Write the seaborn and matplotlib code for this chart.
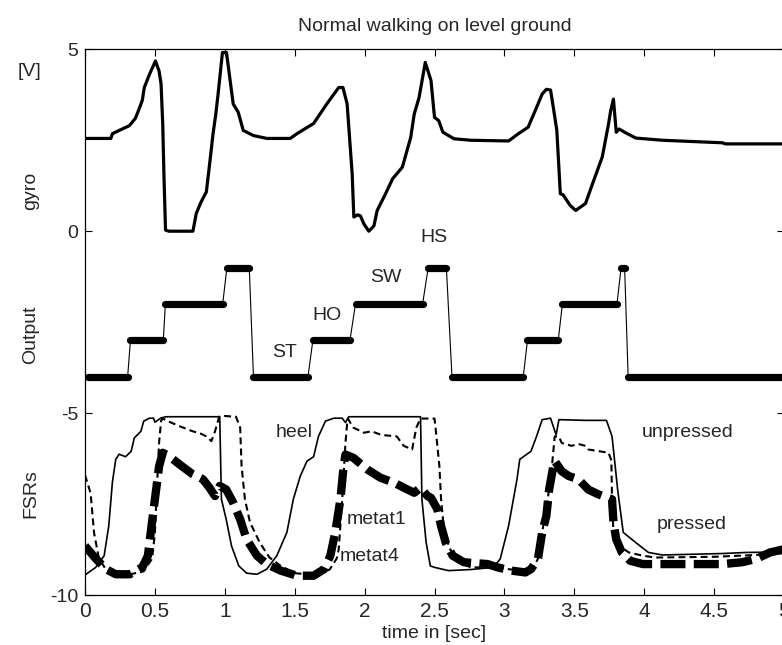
import numpy as np
import pandas as pd
import matplotlib
matplotlib.use("Agg")
import matplotlib.pyplot as plt
import seaborn as sns

# ---------------- data ----------------
gyro_t = [0.0, 0.1, 0.185, 0.196, 0.25, 0.317, 0.36, 0.388, 0.41, 0.424, 0.46, 0.504, 0.53, 0.544,
          0.556, 0.565, 0.576, 0.6, 0.772, 0.796, 0.83, 0.868, 0.89, 0.916, 0.935, 0.952, 0.983,
          1.012, 1.06, 1.096, 1.132, 1.204, 1.3, 1.468, 1.516, 1.635, 1.73, 1.815, 1.845, 1.875,
          1.911, 1.923, 1.95, 1.97, 1.995, 2.03, 2.067, 2.09, 2.15, 2.2, 2.27, 2.33, 2.355, 2.39,
          2.434, 2.475, 2.5, 2.53, 2.56, 2.64, 2.76, 3.03, 3.1, 3.17, 3.22, 3.27, 3.3, 3.33, 3.35,
          3.375, 3.4, 3.42, 3.47, 3.51, 3.58, 3.63, 3.70, 3.745, 3.76, 3.78, 3.80, 3.82, 3.86, 3.94,
          4.13, 4.56, 4.58, 5.0]
gyro_v = [2.55, 2.55, 2.55, 2.68, 2.78, 2.9, 3.1, 3.37, 3.6, 3.95, 4.3, 4.68, 4.4, 4.05,
          2.95, 1.5, 0.03, 0.0, 0.0, 0.49, 0.8, 1.08, 1.8, 2.68, 3.2, 3.77, 4.91,
          4.91, 3.5, 3.27, 2.77, 2.63, 2.55, 2.55, 2.68, 2.96, 3.5, 3.95, 3.95, 3.5,
          1.58, 0.39, 0.45, 0.42, 0.2, 0.0, 0.15, 0.57, 1.03, 1.44, 1.76, 2.58, 3.22, 3.68,
          4.64, 4.14, 3.13, 3.04, 2.72, 2.54, 2.5, 2.48, 2.68, 2.86, 3.31, 3.77, 3.9, 3.88, 3.4,
          2.77, 1.03, 1.0, 0.71, 0.57, 0.76, 1.3, 2.04, 2.95, 3.31, 3.63, 2.72, 2.81, 2.72, 2.56,
          2.5, 2.43, 2.4, 2.4]

seg_start = [0.025, 0.325, 0.575, 1.015, 1.205, 1.63, 1.935, 2.455, 2.625, 3.165, 3.415, 3.835, 3.885]
seg_end = [0.305, 0.56, 0.985, 1.175, 1.595, 1.895, 2.415, 2.585, 3.135, 3.385, 3.805, 3.86, 5.0]
seg_level = [-4, -3, -2, -1, -4, -3, -2, -1, -4, -3, -2, -1, -4]

heel_t = [0, 0.077, 0.137, 0.17, 0.196, 0.22, 0.244, 0.29, 0.33, 0.353, 0.4, 0.42, 0.46, 0.49,
          0.50, 0.545, 0.58, 0.964, 0.966, 0.976, 1.01, 1.048, 1.1, 1.156, 1.23, 1.3, 1.372, 1.444,
          1.49, 1.54, 1.588, 1.635, 1.67, 1.72, 1.78, 1.84, 1.863, 1.887, 2.40, 2.41, 2.44, 2.47,
          2.5, 2.6, 2.76, 2.92, 2.97, 3.03, 3.09, 3.11, 3.19, 3.23, 3.27, 3.33, 3.37, 3.39, 3.58,
          3.73, 3.77, 3.81, 3.85, 3.94, 4.03, 4.13, 4.56, 4.73, 5.0]
heel_v = [-9.45, -9.24, -8.92, -8.1, -6.9, -6.27, -6.13, -6.2, -6.05, -5.68, -5.5, -5.22, -5.14, -5.14,
          -5.25, -5.13, -5.1, -5.1, -5.55, -7.37, -7.92, -8.65, -9.2, -9.4, -9.43, -9.29, -8.92, -8.28,
          -7.37, -6.73, -6.32, -6.2, -5.64, -5.22, -5.14, -5.14, -5.26, -5.1, -5.1, -7.37, -8.55, -9.2,
          -9.24, -9.33, -9.3, -9.24, -9.01, -8.1, -6.82, -6.27, -6.05, -5.64, -5.18, -5.14, -5.6, -5.18, -5.2,
          -5.2, -5.64, -7.1, -8.28, -8.56, -8.83, -8.9, -8.86, -8.83, -8.82]

metat1_t = [0, 0.04, 0.065, 0.1, 0.15, 0.3, 0.42, 0.48, 0.5, 0.515, 0.53, 0.545, 0.56, 0.58, 0.676,
            0.77, 0.82, 0.868, 0.904, 0.93, 0.96, 1.0, 1.08, 1.11, 1.12, 1.144, 1.18, 1.25, 1.32, 1.4,
            1.5, 1.65, 1.75, 1.8, 1.815, 1.84, 1.863, 1.875, 1.88, 1.92, 1.995, 2.05, 2.12, 2.23, 2.28,
            2.34, 2.37, 2.40, 2.5, 2.51, 2.535, 2.547, 2.57, 2.61, 2.67, 2.76, 2.93, 3.05, 3.2, 3.24,
            3.27, 3.31, 3.34, 3.36, 3.39, 3.41, 3.48, 3.53, 3.58, 3.6, 3.745, 3.765, 3.77, 3.78, 3.82,
            3.89, 3.99, 4.08, 4.5, 4.8, 5.0]
metat1_v = [-6.7, -7.2, -8.3, -9.0, -9.3, -9.45, -9.35, -9.0, -8.3, -7.0, -5.8, -5.2, -5.15, -5.2, -5.36,
            -5.5, -5.55, -5.64, -5.77, -5.5, -5.1, -5.08, -5.1, -5.4, -6.46, -7.37, -8.0, -8.56, -8.97, -9.2,
            -9.4, -9.45, -9.3, -9.0, -8.74, -7.37, -5.82, -5.3, -5.15, -5.4, -5.54, -5.5, -5.6, -5.64, -5.9,
            -6.0, -5.4, -5.15, -5.15, -5.5, -6.46, -7.37, -8.28, -8.73, -9.1, -9.24, -9.24, -9.3, -9.3, -9.0,
            -8.28, -7.37, -6.46, -5.64, -5.65, -5.82, -5.9, -5.85, -5.9, -6.0, -6.09, -6.3, -7.37, -8.28, -8.65,
            -8.83, -8.92, -8.97, -8.95, -8.9, -8.85]

metat4_t = [0, 0.077, 0.15, 0.22, 0.32, 0.41, 0.45, 0.47, 0.5, 0.53, 0.556, 0.6, 0.676, 0.77, 0.844,
            0.89, 0.93, 0.964, 1.01, 1.06, 1.11, 1.156, 1.23, 1.3, 1.4, 1.516, 1.635, 1.71, 1.755, 1.79,
            1.827, 1.85, 1.863, 1.92, 2.02, 2.115, 2.21, 2.28, 2.355, 2.40, 2.45, 2.475, 2.52, 2.547, 2.58,
            2.63, 2.71, 2.88, 2.95, 3.05, 3.15, 3.19, 3.24, 3.27, 3.30, 3.32, 3.35, 3.36, 3.41, 3.46, 3.53,
            3.6, 3.67, 3.77, 3.78, 3.80, 3.84, 3.90, 3.99, 4.56, 4.7, 4.8, 4.9, 5.0]
metat4_v = [-8.65, -9.0, -9.29, -9.43, -9.43, -9.24, -8.92, -8.28, -7.37, -6.46, -6.09, -6.18, -6.41, -6.68, -6.82,
            -7.05, -7.28, -7.0, -7.1, -7.46, -7.92, -8.47, -8.92, -9.15, -9.33, -9.47, -9.47, -9.29, -8.92, -8.28,
            -7.37, -6.46, -6.14, -6.23, -6.55, -6.78, -6.91, -7.05, -7.19, -7.05, -7.28, -7.33, -7.64, -8.1, -8.56,
            -8.92, -9.1, -9.15, -9.24, -9.33, -9.38, -9.29, -9.01, -8.28, -7.83, -7.1, -6.46, -6.32, -6.6, -6.73, -6.82,
            -7.1, -7.23, -7.37, -8.0, -8.47, -8.83, -9.06, -9.15, -9.15, -9.1, -9.01, -8.83, -8.74]

x_ticks = [0, 0.5, 1, 1.5, 2, 2.5, 3, 3.5, 4, 4.5, 5]
x_ticklabels = ["0", "0.5", "1", "1.5", "2", "2.5", "3", "3.5", "4", "4.5", "5"]
y_ticks = [5, 0, -5, -10]
y_ticklabels = ["5", "0", "-5", "-10"]

# ---------------- style ----------------
sns.set_theme(style="white")
plt.rcParams["font.family"] = ["Liberation Sans", "DejaVu Sans"]
plt.rcParams["lines.scale_dashes"] = False

fig = plt.figure(figsize=(7.82, 6.45), dpi=100)
ax = fig.add_axes([85 / 782, 50 / 645, 699 / 782, 545.7 / 645])

# gyro
sns.lineplot(x=gyro_t, y=gyro_v, ax=ax, color="black", linewidth=2.3,
             estimator=None, sort=False, legend=False)

# output steps: thin connectors + thick level segments
thin_t, thin_v = [], []
for s, e, lv in zip(seg_start, seg_end, seg_level):
    thin_t += [s, e]
    thin_v += [lv, lv]
sns.lineplot(x=thin_t, y=thin_v, ax=ax, color="black", linewidth=0.8,
             estimator=None, sort=False, legend=False)
for s, e, lv in zip(seg_start, seg_end, seg_level):
    ax.plot([s, e], [lv, lv], color="black", linewidth=5.2, solid_capstyle="round")

# FSRs
sns.lineplot(x=heel_t, y=heel_v, ax=ax, color="black", linewidth=1.2,
             estimator=None, sort=False, legend=False)
l1 = sns.lineplot(x=metat1_t, y=metat1_v, ax=ax, color="black", linewidth=1.5,
                  estimator=None, sort=False, legend=False).lines[-1]
l1.set_dashes((5, 3))
l4 = sns.lineplot(x=metat4_t, y=metat4_v, ax=ax, color="black", linewidth=6,
                  estimator=None, sort=False, legend=False).lines[-1]
l4.set_dashes((18, 6))

ax.set_xlim(0, 5)
ax.set_ylim(-10, 5)
ax.set_xticks(x_ticks)
ax.set_xticklabels(x_ticklabels, fontsize=15)
ax.set_yticks(y_ticks)
ax.set_yticklabels(y_ticklabels, fontsize=14)
ax.tick_params(direction="in", length=5, width=0.8, color="black", top=True, right=True,
               bottom=True, left=True, pad=5)
for sp in ax.spines.values():
    sp.set_color("black")
    sp.set_linewidth(0.9)
ax.set_xlabel("time in [sec]", fontsize=14, labelpad=3)
ax.set_ylabel("")
ax.set_title("Normal walking on level ground", fontsize=14, pad=13)

# side labels
tr = ax.get_yaxis_transform()
ax.text(-0.078, 1.1, "gyro", transform=tr, rotation=90, ha="center", va="center", fontsize=14)
ax.text(-0.078, -2.85, "Output", transform=tr, rotation=90, ha="center", va="center", fontsize=14)
ax.text(-0.078, -7.2, "FSRs", transform=tr, rotation=90, ha="center", va="center", fontsize=14)
ax.text(-0.079, 4.4, "[V]", transform=tr, ha="center", va="center", fontsize=14)

# in-plot annotations
for txt, tx, ty in [("heel", 1.36, -5.54), ("metat1", 1.87, -7.92), ("metat4", 1.82, -8.95),
                    ("unpressed", 3.98, -5.54), ("pressed", 4.09, -8.05),
                    ("ST", 1.34, -3.34), ("HO", 1.63, -2.31), ("SW", 2.04, -1.27), ("HS", 2.40, -0.18)]:
    ax.text(tx, ty, txt, ha="left", va="center", fontsize=14)

fig.savefig("out.png", dpi=100)
